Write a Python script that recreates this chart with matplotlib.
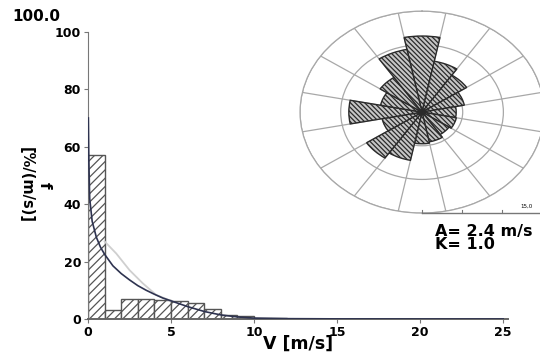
import numpy as np
import matplotlib
matplotlib.use('Agg')
import matplotlib.pyplot as plt
from matplotlib.lines import Line2D

# histogram of wind speed (1 m/s bins)
bin_left = [0, 1, 2, 3, 4, 5, 6, 7, 8, 9, 10, 11]
freq = [57.2, 3.2, 6.9, 7.1, 6.6, 6.4, 5.6, 3.4, 1.4, 0.9, 0.3, 0.2]

# fitted curve (dark)
fit_v = [0.02, 0.05, 0.1, 0.25, 0.5, 0.75, 1.0, 1.5, 2.0, 2.5, 3.0, 3.5, 4.0,
         4.5, 5.0, 6.0, 7.0, 8.0, 9.0, 10.0, 12.0, 15.0, 20.0, 25.0]
fit_f = [70, 55, 42, 34, 28.5, 25, 22.5, 18.5, 15.8, 13.6, 11.6, 10.0, 8.6,
         7.3, 6.3, 4.3, 2.6, 1.4, 0.7, 0.3, 0.1, 0.03, 0.0, 0.0]

# second (light) curve
lt_v = [1.0, 1.7, 2.5, 3.3, 4.1, 5.0]
lt_f = [27, 22.8, 17, 12.4, 8.4, 6.3]

# wind rose, 16 sectors, frequency in %
rose_dir = [0, 22.5, 45, 67.5, 90, 112.5, 135, 157.5,
            180, 202.5, 225, 247.5, 270, 292.5, 315, 337.5]
rose_val = [11.3, 7.7, 6.6, 5.3, 4.2, 4.3, 4.0, 4.5,
            4.7, 7.3, 8.2, 5.0, 9.0, 5.2, 6.2, 9.5]

plt.rcParams['hatch.linewidth'] = 0.9

fig = plt.figure(figsize=(5.4, 3.54), dpi=100)

ax = fig.add_axes([0.163, 0.099, 0.778, 0.811])
ax.bar(bin_left, freq, width=1.0, align='edge', facecolor='white',
       edgecolor='#555555', hatch='////', linewidth=1.0, zorder=2)
ax.plot(lt_v, lt_f, color='#cfcfcf', lw=1.3, zorder=3)
ax.plot(fit_v, fit_f, color='#2e3350', lw=1.2, zorder=4)

ax.set_xlim(0, 25.3)
ax.set_ylim(0, 100)
ax.set_xticks([0, 5, 10, 15, 20, 25])
ax.set_yticks([0, 20, 40, 60, 80, 100])
for s in ['top', 'right']:
    ax.spines[s].set_visible(False)
ax.spines['left'].set_color('#777777')
ax.spines['bottom'].set_color('#666666')
ax.spines['bottom'].set_linewidth(1.4)
ax.tick_params(axis='both', length=3, width=0.8, color='#777777', pad=2,
               labelsize=9)
for lab in ax.get_xticklabels() + ax.get_yticklabels():
    lab.set_fontweight('bold')
ax.set_xlabel('V [m/s]', fontsize=12.5, fontweight='bold', labelpad=-3)

fig.text(0.022, 0.953, '100.0', fontsize=11, fontweight='bold',
         ha='left', va='center')
fig.text(0.082, 0.477, 'f', fontsize=11, fontweight='bold', rotation=270,
         ha='center', va='center')
fig.text(0.048, 0.477, '[%/(m/s)]', fontsize=10.5, fontweight='bold',
         rotation=270, ha='center', va='center')

# wind rose
ax2 = fig.add_axes([0.5556, 0.398, 0.4519, 0.5706], projection='polar')
ax2.set_aspect('auto')
ax2.set_theta_zero_location('N')
ax2.set_theta_direction(-1)
ax2.bar(np.deg2rad(rose_dir), rose_val, width=np.deg2rad(22.5),
        facecolor='#c6c6c6', edgecolor='#2a2a2a', hatch='\\\\\\\\\\\\\\',
        linewidth=1.0, zorder=3)
ax2.set_ylim(0, 15)
ax2.set_yticks([5, 10, 15])
ax2.set_xticks(np.deg2rad(np.arange(11.25, 360, 22.5)))
ax2.set_xticklabels([])
ax2.set_yticklabels([])
ax2.grid(True, color='#a8a8a8', lw=0.9)
ax2.spines['polar'].set_color('#a8a8a8')
ax2.spines['polar'].set_linewidth(0.9)
ax2.set_facecolor('white')

# scale bar under the rose
fig.add_artist(Line2D([0.781, 1.0], [0.398, 0.398], color='#777777', lw=1.0,
                      transform=fig.transFigure))
for tx in [0.781, 0.855, 0.930]:
    fig.add_artist(Line2D([tx, tx], [0.398, 0.406], color='#777777', lw=0.8,
                          transform=fig.transFigure))
fig.text(0.975, 0.418, '15,0', fontsize=4, ha='center', va='center')

fig.text(0.806, 0.347, 'A= 2.4 m/s', fontsize=11.5, fontweight='bold',
         ha='left', va='center')
fig.text(0.806, 0.308, 'K= 1.0', fontsize=11.5, fontweight='bold',
         ha='left', va='center')

fig.savefig('out.png', dpi=100)
